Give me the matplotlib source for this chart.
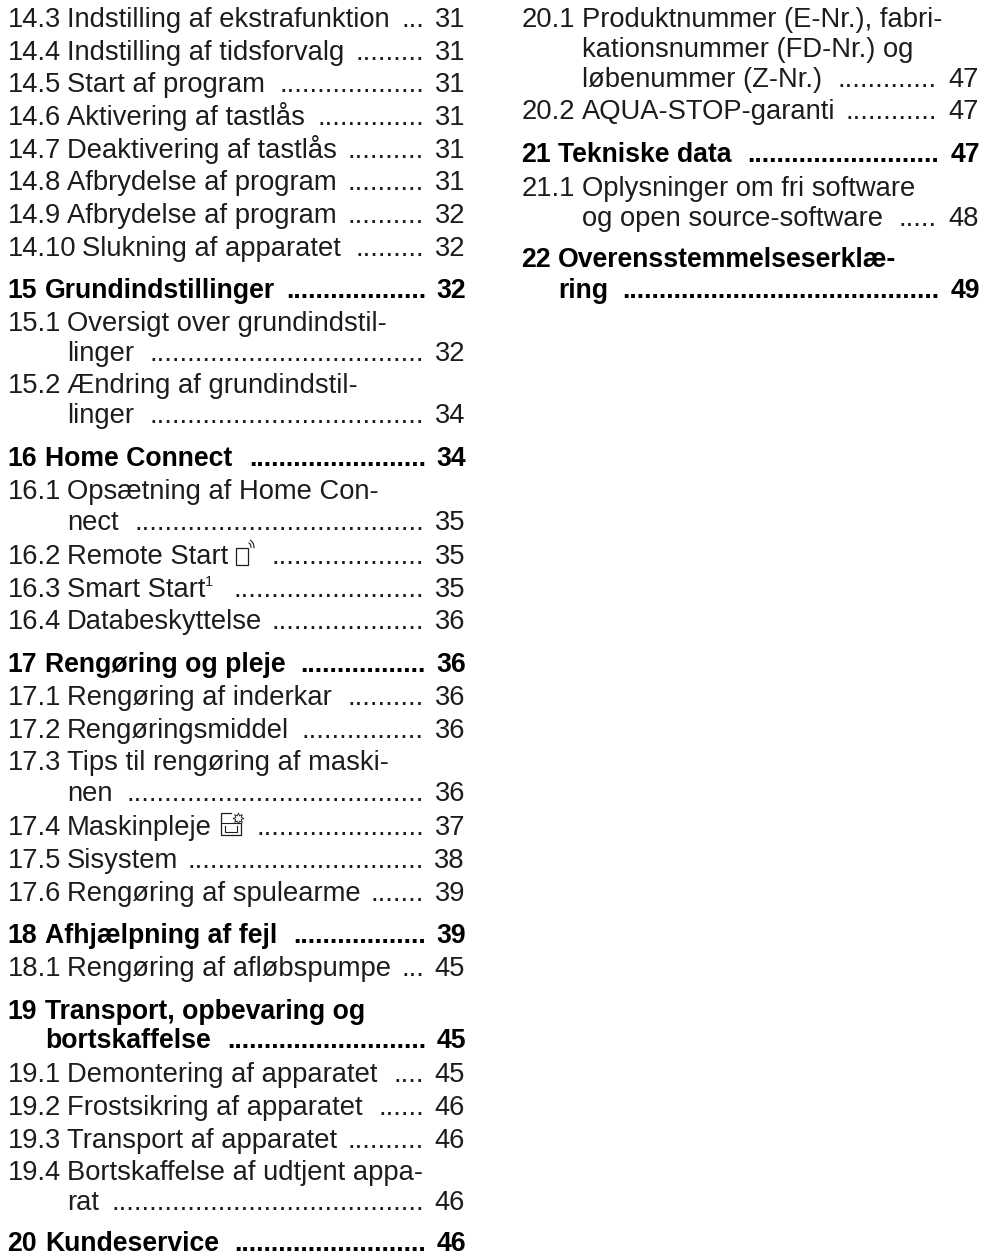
import numpy as np
import matplotlib.pyplot as plt
from matplotlib.patches import Rectangle, Arc

plt.rcParams['font.family'] = ['Liberation Sans', 'DejaVu Sans']

W, H = 993, 1256
ink = '#1c1c1c'
fs = 19.7
fs_bold = 19.2

# left column: number, title lines, page
left_nums = ['14.3', '14.4', '14.5', '14.6', '14.7', '14.8', '14.9', '14.10', '15', '15.1', '', '15.2', '',
             '16', '16.1', '', '16.2', '16.3', '16.4', '17', '17.1', '17.2', '17.3', '', '17.4', '17.5', '17.6',
             '18', '18.1', '19', '', '19.1', '19.2', '19.3', '19.4', '', '20']
left_text = ['Indstilling af ekstrafunktion', 'Indstilling af tidsforvalg', 'Start af program',
             'Aktivering af tastlås', 'Deaktivering af tastlås', 'Afbrydelse af program',
             'Afbrydelse af program', 'Slukning af apparatet', 'Grundindstillinger',
             'Oversigt over grundindstil-', 'linger', 'Ændring af grundindstil-', 'linger',
             'Home Connect', 'Opsætning af Home Con-', 'nect', 'Remote Start', 'Smart Start', 'Databeskyttelse',
             'Rengøring og pleje', 'Rengøring af inderkar', 'Rengøringsmiddel', 'Tips til rengøring af maski-',
             'nen', 'Maskinpleje', 'Sisystem', 'Rengøring af spulearme',
             'Afhjælpning af fejl', 'Rengøring af afløbspumpe',
             'Transport, opbevaring og', 'bortskaffelse', 'Demontering af apparatet',
             'Frostsikring af apparatet', 'Transport af apparatet', 'Bortskaffelse af udtjent appa-',
             'rat', 'Kundeservice']
left_pages = ['31', '31', '31', '31', '31', '31', '32', '32', '32', '', '32', '', '34',
              '34', '', '35', '35', '35', '36', '36', '36', '36', '', '36', '37', '38', '39',
              '39', '45', '', '45', '45', '46', '46', '', '46', '46']
left_bold = ['15', '16', '17', '18', '19', '20']
left_base = [27, 60, 92, 125, 158, 190, 223, 256, 298, 331, 361, 393, 423,
             466, 499, 530, 564, 597, 629, 672, 705, 738, 770, 801, 835, 868, 901,
             943, 976, 1019, 1048, 1082, 1115, 1148, 1180, 1210, 1251]

# right column
right_nums = ['20.1', '', '', '20.2', '21', '21.1', '', '22', '']
right_text = ['Produktnummer (E-Nr.), fabri-', 'kationsnummer (FD-Nr.) og', 'løbenummer (Z-Nr.)',
              'AQUA-STOP-garanti', 'Tekniske data', 'Oplysninger om fri software',
              'og open source-software', 'Overensstemmelseserklæ-', 'ring']
right_pages = ['', '', '47', '47', '47', '', '48', '', '49']
right_bold = ['21', '22']
right_base = [27, 57, 87, 119, 162, 196, 226, 267, 298]

# titles followed by an icon or a wider gap, dots start further along
dot_start = {'Remote Start': 266, 'Smart Start': 226, 'Maskinpleje': 252, 'Home Connect': 248}

fig = plt.figure(figsize=(W / 100, H / 100), dpi=100, facecolor='white')
ax = fig.add_axes([0, 0, 1, 1])
ax.set_xlim(0, W)
ax.set_ylim(H, 0)
ax.axis('off')
renderer = fig.canvas.get_renderer()


def text_width(t):
    return t.get_window_extent(renderer).width


def leader(x0, x1, y, weight, color, size):
    # dots run back from the page number as far as the title allows
    probe = ax.text(0, 0, '.' * 20, fontsize=size, fontweight=weight)
    step = text_width(probe) / 20
    probe.remove()
    n = int((x1 - x0) // step)
    if n > 0:
        ax.text(x1, y, '.' * n, fontsize=size, fontweight=weight, ha='right', va='baseline', color=color)


def draw_column(nums, texts, pages, base, bold_nums, x_num, x_text, x_bold, x_dots, x_page):
    in_bold = False
    for num, txt, page, y in zip(nums, texts, pages, base):
        if num:
            in_bold = num in bold_nums
        weight = 'bold' if in_bold else 'normal'
        color = 'black' if in_bold else ink
        size = fs_bold if in_bold else fs
        if num:
            ax.text(x_num - in_bold, y, num, fontsize=size, fontweight=weight, va='baseline', color=color)
        x = x_bold if in_bold else x_text
        if num == '14.10':
            x += 15
        t = ax.text(x, y, txt, fontsize=size, fontweight=weight, va='baseline', color=color)
        if page:
            ax.text(x_page + in_bold, y, page, fontsize=size, fontweight=weight, ha='right', va='baseline', color=color)
            end = dot_start.get(txt, x + text_width(t) + 9)
            leader(end, x_dots + 2 * in_bold, y, weight, color, size)


draw_column(left_nums, left_text, left_pages, left_base, left_bold, 8, 67, 45, 424, 465)
draw_column(right_nums, right_text, right_pages, right_base, right_bold, 522, 582, 558, 937, 979)

# footnote mark after Smart Start
ax.text(205, 586, '1', fontsize=10.5, va='baseline', color=ink)

# remote start icon
ax.add_patch(Rectangle((235.5, 547.5), 12.5, 17, fill=False, ec=ink, lw=0.9))
for r in (5, 8):
    ax.add_patch(Arc((246, 547), 2 * r, 2 * r, theta1=-60, theta2=10, ec=ink, lw=0.8))

# machine care icon
ax.plot([231, 221, 221, 241, 241], [813, 813, 835, 835, 823], color=ink, lw=0.9)
ax.plot([221, 240], [822.5, 822.5], color=ink, lw=0.8)
ax.plot([224.5, 224.5, 237, 237], [826, 831.5, 831.5, 826], color=ink, lw=0.8)
ax.plot(238, 817.5, marker=(8, 1, 0), ms=8, mfc='white', mec=ink, mew=0.6)

fig.savefig('out.png', dpi=100, facecolor='white')
